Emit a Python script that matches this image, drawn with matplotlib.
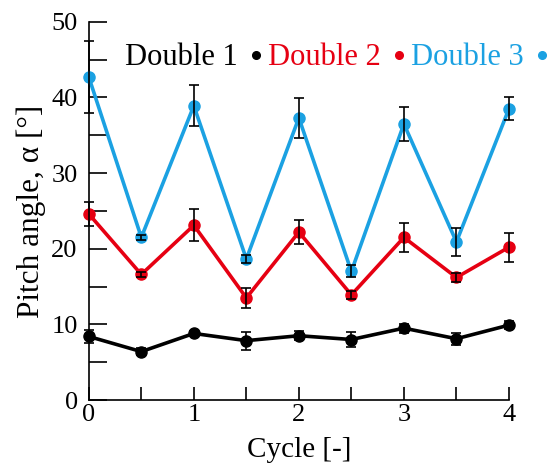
import matplotlib
matplotlib.use("Agg")
import matplotlib.pyplot as plt
from matplotlib.lines import Line2D

plt.rcParams['font.family'] = ['Liberation Serif', 'DejaVu Serif']
plt.rcParams['mathtext.fontset'] = 'stix'

cycle = [0, 0.5, 1, 1.5, 2, 2.5, 3, 3.5, 4]
series_names = ["Double 1", "Double 2", "Double 3"]
double1 = [8.4, 6.4, 8.8, 7.85, 8.5, 8.0, 9.5, 8.1, 9.9]
double1_err = [0.8, 0.5, 0.3, 1.2, 0.6, 1.0, 0.6, 0.8, 0.5]
double2 = [24.6, 16.6, 23.1, 13.5, 22.2, 13.9, 21.5, 16.2, 20.2]
double2_err = [1.6, 0.3, 2.1, 1.3, 1.6, 0.5, 1.9, 0.6, 1.9]
double3 = [42.7, 21.5, 38.9, 18.65, 37.3, 17.0, 36.5, 20.9, 38.5]
double3_err = [4.7, 0.3, 2.7, 0.5, 2.6, 0.8, 2.3, 1.8, 1.5]
colors = ["#000000", "#e60012", "#1ba1e2"]

fig = plt.figure(figsize=(5.55, 4.71), dpi=100)
ax = fig.add_axes([0.160, 0.1507, 0.757, 0.803])

for y, e, c in zip([double1, double2, double3],
                   [double1_err, double2_err, double3_err], colors):
    ax.plot(cycle, y, color=c, lw=2.6, marker='o', ms=8, zorder=3, clip_on=False)
    ax.errorbar(cycle, y, yerr=e, fmt='none', ecolor='black', elinewidth=1.2,
                capsize=3.5, capthick=1.2, zorder=4, clip_on=False)

ax.set_xlim(0, 4)
ax.set_ylim(0, 50)
ax.set_xticks([0, 1, 2, 3, 4])
ax.set_xticks([0.5, 1.5, 2.5, 3.5], minor=True)
ax.set_yticks([0, 10, 20, 30, 40, 50])
ax.set_yticks([5, 15, 25, 35, 45], minor=True)
ax.tick_params(axis='both', which='both', direction='in', labelsize=19, width=1.2)
ax.tick_params(axis='y', which='both', length=13, pad=8)
ax.tick_params(axis='x', which='both', length=9.5, pad=3)
for s in ['top', 'right']:
    ax.spines[s].set_visible(False)
for s in ['left', 'bottom']:
    ax.spines[s].set_linewidth(1.2)

ax.set_xlabel("Cycle [-]", fontsize=21, labelpad=8)
ax.set_ylabel("Pitch angle, α [°]", fontsize=22.5, labelpad=4)

handles = [Line2D([], [], color=c, marker='o', ms=5.5, ls='none') for c in colors]
leg = ax.legend(handles, series_names, ncol=3, loc='upper center',
                bbox_to_anchor=(0.593, 0.975), frameon=False, markerfirst=False,
                fontsize=22, handlelength=0.6, handletextpad=0.3,
                columnspacing=0.1, labelcolor=colors, borderaxespad=0)

fig.savefig("out.png", dpi=100)
